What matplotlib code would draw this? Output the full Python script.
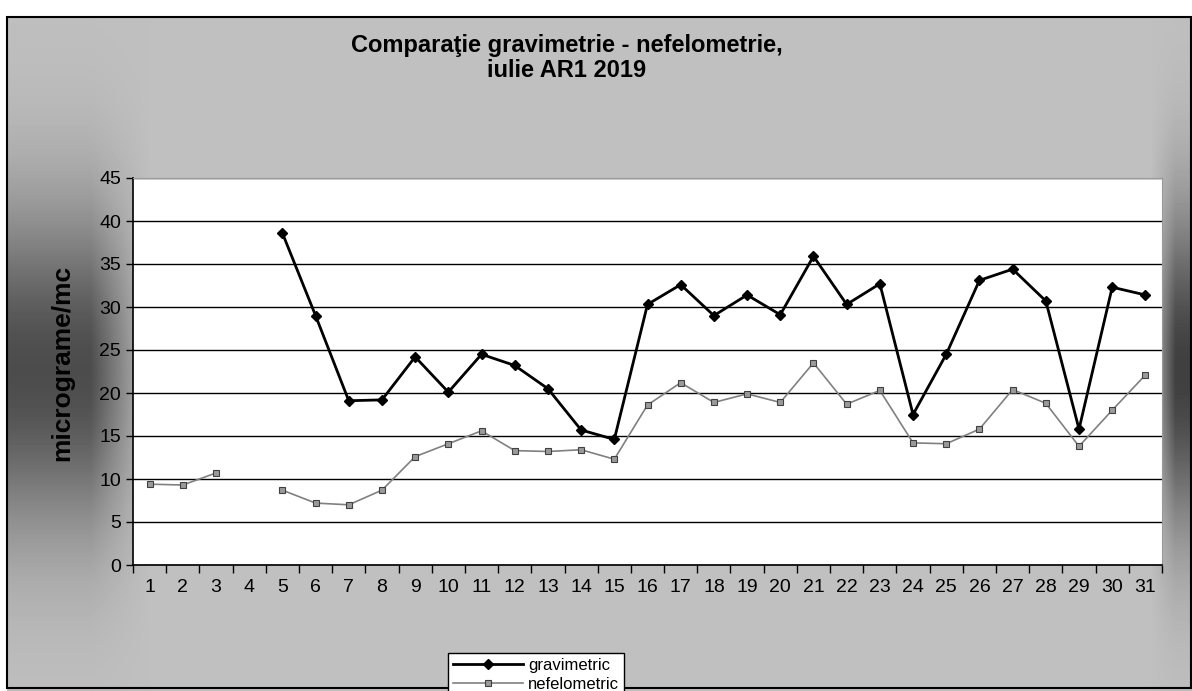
import matplotlib
matplotlib.use('Agg')
import matplotlib.pyplot as plt
from matplotlib.patches import Rectangle
import numpy as np

plt.rcParams['font.family'] = ['Liberation Sans', 'DejaVu Sans']

# date
zile = list(range(1, 32))
gravimetric = [np.nan, np.nan, np.nan, np.nan, 38.6, 29.0, 19.1, 19.2, 24.2, 20.1,
               24.5, 23.2, 20.5, 15.7, 14.6, 30.3, 32.6, 29.0, 31.4, 29.1,
               35.9, 30.3, 32.7, 17.5, 24.5, 33.1, 34.4, 30.7, 15.8, 32.3, 31.4]
nefelometric = [9.4, 9.3, 10.7, np.nan, 8.7, 7.2, 7.0, 8.7, 12.6, 14.1,
                15.6, 13.3, 13.2, 13.4, 12.3, 18.6, 21.2, 18.9, 19.9, 18.9,
                23.5, 18.7, 20.3, 14.2, 14.1, 15.8, 20.4, 18.8, 13.8, 18.0, 22.1]
y_ticks = list(range(0, 50, 5))

W, H = 1192, 691
fig = plt.figure(figsize=(W / 100, H / 100), dpi=100)

# fundal gri cu umbre pe margini (stil Excel scanat)
bg = fig.add_axes([0, 0, 1, 1])
yy, xx = np.mgrid[0:H, 0:W]
img = np.full((H, W), 0.75)
vert = np.exp(-((yy - 370) / 160.0) ** 2)
left = np.clip((150 - xx) / 60.0, 0, 1)
right = np.clip((xx - 1150) / 25.0, 0, 1)
img = img - 0.45 * vert * left - 0.5 * vert * right
img[:17, :] = 1.0
img[:, :7] = 1.0
bg.imshow(img, cmap='gray', vmin=0, vmax=1, aspect='auto',
          extent=(0, W, H, 0), interpolation='bilinear')
bg.set_xlim(0, W)
bg.set_ylim(H, 0)
bg.axis('off')
bg.add_patch(Rectangle((7, 17), W - 8, H - 20, fill=False,
                       edgecolor='black', linewidth=1.5))

ax = fig.add_axes([133 / W, 1 - 565 / H, (1162 - 133) / W, (565 - 178) / H])
ax.set_facecolor('white')

ax.plot(zile, gravimetric, color='black', linewidth=2, marker='D',
        markersize=5, label='gravimetric', zorder=4)
ax.plot(zile, nefelometric, color='#808080', linewidth=1.2, marker='s',
        markersize=5, markerfacecolor='#9a9a9a', markeredgecolor='#404040',
        markeredgewidth=0.8, label='nefelometric', zorder=3)

ax.set_xlim(0.5, 31.5)
ax.set_ylim(0, 45)
ax.set_yticks(y_ticks)
ax.set_xticks(zile)
ax.set_xticklabels([str(z) for z in zile])
ax.set_xticks(np.arange(0.5, 32, 1), minor=True)
ax.tick_params(axis='x', which='major', length=0, labelsize=14, pad=10)
ax.tick_params(axis='x', which='minor', length=6, direction='out', width=1)
ax.tick_params(axis='y', length=5, direction='out', labelsize=14, width=1)
ax.grid(True, axis='y', color='black', linewidth=1)
ax.set_axisbelow(True)
for s in ['top', 'right']:
    ax.spines[s].set_color('#9a9a9a')
for s in ['left', 'bottom']:
    ax.spines[s].set_linewidth(1.2)

fig.text(62 / W, 1 - 363 / H, 'micrograme/mc', rotation=90, ha='center',
         va='center', fontsize=19, fontweight='bold')
fig.text(567 / W, 1 - 58 / H, 'Comparaţie gravimetrie - nefelometrie,\niulie AR1 2019',
         ha='center', va='center', fontsize=17, fontweight='bold', linespacing=1.1)

leg = fig.legend(loc='upper left', bbox_to_anchor=(440 / W, 1 - 645 / H),
                 fontsize=12, frameon=True, fancybox=False, edgecolor='black',
                 framealpha=1, borderpad=0.3, handlelength=4.2, labelspacing=0.2,
                 handletextpad=0.3)
leg.get_frame().set_linewidth(1)

fig.savefig('out.png', dpi=100, facecolor='white')
plt.close(fig)
